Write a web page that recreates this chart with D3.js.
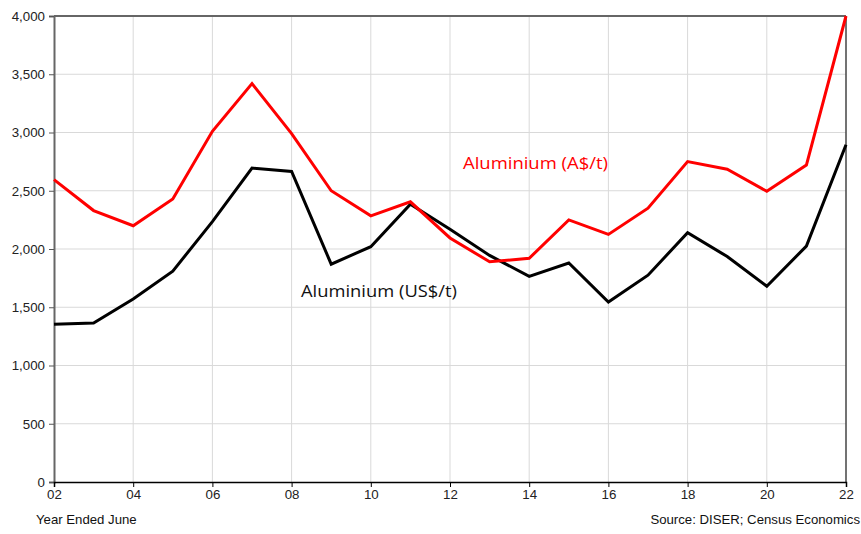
<!DOCTYPE html>
<html><head><meta charset="utf-8">
<script src="https://cdn.jsdelivr.net/npm/d3@7"></script>
<style>body{margin:0;background:#fff}svg{display:block}</style>
</head><body>
<svg id="c" width="861" height="534"></svg>
<script>
const years = [2002,2003,2004,2005,2006,2007,2008,2009,2010,2011,2012,2013,2014,2015,2016,2017,2018,2019,2020,2021,2022];
const audValues = [2595,2330,2200,2430,3010,3420,2990,2500,2285,2405,2095,1890,1920,2250,2125,2350,2750,2685,2495,2720,4000];
const usdValues = [1355,1365,1570,1810,2235,2695,2665,1870,2020,2385,2170,1945,1765,1880,1545,1775,2140,1935,1680,2025,2895];
const yTicks = [0,500,1000,1500,2000,2500,3000,3500,4000];
const xTicks = [2002,2004,2006,2008,2010,2012,2014,2016,2018,2020,2022];

const svg = d3.select("#c");
const L=54, R=846, T=16, B=482;
const x = d3.scaleLinear().domain([2002,2022]).range([L,R]);
const y = d3.scaleLinear().domain([0,4000]).range([B,T]);

// gridlines
svg.append("g").selectAll("line").data(yTicks.filter(d=>d>0&&d<4000)).join("line")
  .attr("x1",L).attr("x2",R).attr("y1",d=>y(d)).attr("y2",d=>y(d))
  .attr("stroke","#d9d9d9").attr("stroke-width",1);
svg.append("g").selectAll("line").data(xTicks.filter(d=>d>2002&&d<2022)).join("line")
  .attr("y1",T).attr("y2",B).attr("x1",d=>x(d)).attr("x2",d=>x(d))
  .attr("stroke","#d9d9d9").attr("stroke-width",1);

// frame top and right
svg.append("line").attr("x1",L).attr("x2",R).attr("y1",T).attr("y2",T).attr("stroke","#666").attr("stroke-width",2);
svg.append("line").attr("x1",R).attr("x2",R).attr("y1",T).attr("y2",B).attr("stroke","#444").attr("stroke-width",1.5);

const tickFont = "Liberation Sans, Arial, sans-serif";
// axes
const yAxis = svg.append("g").attr("transform",`translate(${L},0)`)
  .call(d3.axisLeft(y).tickValues(yTicks).tickSize(5).tickPadding(4).tickFormat(d3.format(",")));
yAxis.select(".domain").attr("stroke","#666").attr("stroke-width",2);
yAxis.selectAll(".tick line").attr("stroke","#555");
yAxis.selectAll("text").attr("font-family",tickFont).attr("font-size",13.3).attr("fill","#222");

const xAxis = svg.append("g").attr("transform",`translate(0,${B})`)
  .call(d3.axisBottom(x).tickValues(xTicks).tickSize(5).tickPadding(3).tickFormat(d=>String(d%100).padStart(2,"0")));
xAxis.select(".domain").attr("stroke","#000").attr("stroke-width",1.5);
xAxis.selectAll(".tick line").attr("stroke","#000");
xAxis.selectAll("text").attr("font-family",tickFont).attr("font-size",13.3).attr("fill","#222");

// lines
const line = vals => d3.line().x((d,i)=>x(years[i])).y(d=>y(d))(vals);
svg.append("path").attr("d",line(usdValues)).attr("fill","none").attr("stroke","#000").attr("stroke-width",3).attr("stroke-linejoin","miter");
svg.append("path").attr("d",line(audValues)).attr("fill","none").attr("stroke","#ff0000").attr("stroke-width",3).attr("stroke-linejoin","miter");

// labels
svg.append("text").attr("x",463).attr("y",169).text("Aluminium (A$/t)")
  .attr("font-family","Open Sans, sans-serif").attr("font-size",16.5).attr("fill","#ff0000")
  .attr("textLength",145).attr("lengthAdjust","spacingAndGlyphs");
svg.append("text").attr("x",301).attr("y",297).text("Aluminium (US$/t)")
  .attr("font-family","Open Sans, sans-serif").attr("font-size",16.5).attr("fill","#111")
  .attr("textLength",156).attr("lengthAdjust","spacingAndGlyphs");

svg.append("text").attr("x",36).attr("y",524).text("Year Ended June")
  .attr("font-family",tickFont).attr("font-size",13.2).attr("fill","#111");
svg.append("text").attr("x",860).attr("y",524).attr("text-anchor","end").text("Source: DISER; Census Economics")
  .attr("font-family",tickFont).attr("font-size",13.2).attr("fill","#111");
</script>
</body></html>
